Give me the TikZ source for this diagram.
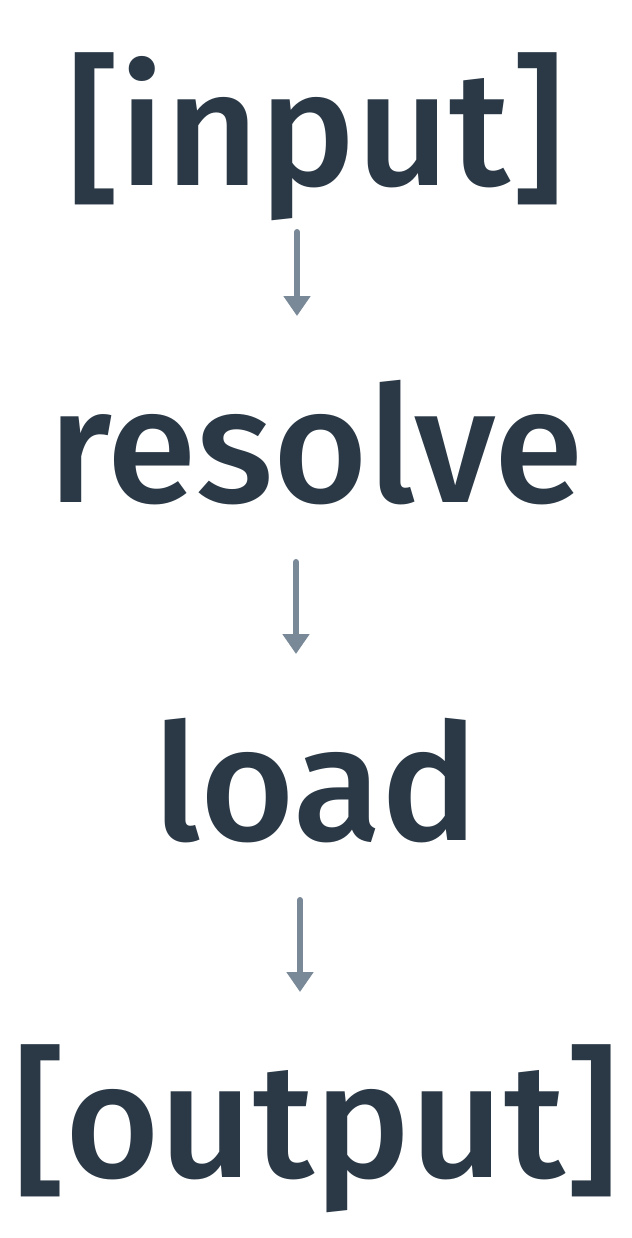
\documentclass[tikz,border=0pt]{standalone}
\usepackage{fontspec}
\setmainfont{Fira Sans}[UprightFont=* Medium]
\usetikzlibrary{arrows.meta}
\definecolor{ink}{HTML}{2B3947}
\definecolor{flowgray}{HTML}{7A8997}
\tikzset{word/.style={anchor=base, inner sep=0pt, text=ink,
         font=\fontsize{81}{81}\selectfont},
         flow/.style={draw=flowgray, line width=3pt, line cap=round,
         -{Triangle[width=13pt, length=10pt]}}}

\begin{document}
\begin{tikzpicture}[x=0.5pt,y=-0.5pt]
      \useasboundingbox (0,0) rectangle (632,1238);

      \node[word] (input)   at (316,185)  {[input]};
      \node[word] (resolve) at (316,502)  {resolve};
      \node[word] (load)    at (316,840)  {load};
      \node[word] (output)  at (316,1177) {[output]};

      % arrow ends
      \coordinate (a1) at (297,232);  \coordinate (b1) at (297,316);
      \coordinate (a2) at (296,562);  \coordinate (b2) at (296,654);
      \coordinate (a3) at (300,900);  \coordinate (b3) at (300,992);

      \draw[flow] (a1) -- (b1);
      \draw[flow] (a2) -- (b2);
      \draw[flow] (a3) -- (b3);
    \end{tikzpicture}
\end{document}
